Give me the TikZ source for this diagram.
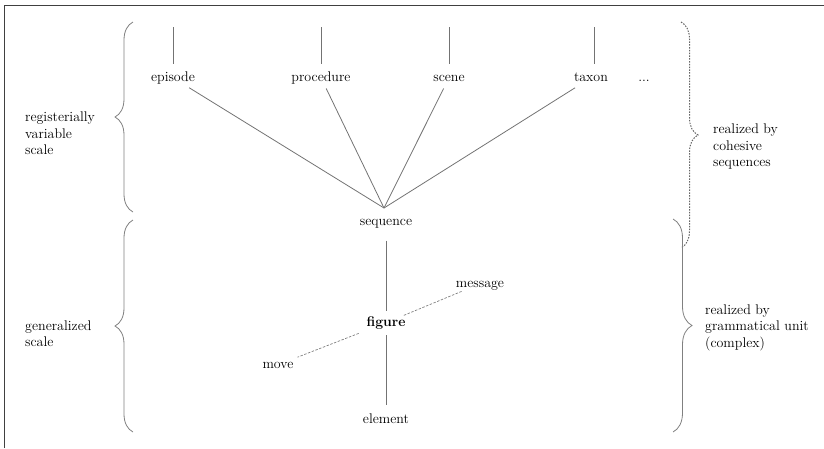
\documentclass[tikz,border=0pt]{standalone}
\usetikzlibrary{decorations.pathreplacing}
\begin{document}
\begin{tikzpicture}[x=1pt,y=-1pt,
  every node/.style={font=\fontsize{14}{16.5}\selectfont, text=black},
  term/.style={inner sep=2pt, text height=10pt, text depth=3.5pt, anchor=base},
  side/.style={inner sep=0pt, align=left, anchor=west},
  link/.style={draw=black!55, line width=0.8pt},
  dashlink/.style={draw=black!50, line width=0.7pt, dash pattern=on 2.5pt off 1.5pt},
  curly/.style={draw=black!50, line width=0.8pt, decorate,
                decoration={brace, amplitude=#1}},
  dotcurly/.style={draw=black!60, line width=1pt, dash pattern=on 1.5pt off 1.3pt,
                decorate, decoration={brace, amplitude=#1}},
  frame/.style={draw=black!75, line width=1.4pt}]

\useasboundingbox (0,0) rectangle (824,448);

% outer frame (top and left edges)
\draw[frame] (4.5,448) -- (4.5,5.5) -- (824,5.5);

% registerially variable units
\node[term] (episode)   at (173,81) {episode};
\node[term] (procedure) at (321,81) {procedure};
\node[term] (scene)     at (449,81) {scene};
\node[term] (taxon)     at (591,81) {taxon};
\node[term] (more)      at (644,81) {...};

\coordinate (episode-up)   at (173,27);
\coordinate (procedure-up) at (321,27);
\coordinate (scene-up)     at (449,27);
\coordinate (taxon-up)     at (594,27);

\draw[link, shorten >=5pt] (episode-up) -- (episode.north -| episode-up);
\draw[link, shorten >=5pt] (procedure-up) -- (procedure.north -| procedure-up);
\draw[link, shorten >=5pt] (scene-up) -- (scene.north -| scene-up);
\draw[link, shorten >=5pt] (taxon-up) -- (taxon.north -| taxon-up);

% generalized units
\node[term] (sequence) at (386,225) {sequence};
\node[term] (figure)   at (386,326) {\bfseries figure};
\node[term] (element)  at (386,423) {element};
\node[term] (message)  at (480,287) {message};
\node[term] (move)     at (278,368) {move};

\coordinate (apex) at (384,208);

\draw[link, shorten <=2pt] (episode) -- (apex);
\draw[link, shorten <=2pt] (procedure) -- (apex);
\draw[link, shorten <=2pt] (scene) -- (apex);
\draw[link, shorten <=2pt] (taxon) -- (apex);

\draw[link, shorten <=10pt, shorten >=3pt] (sequence) -- (figure);
\draw[link, shorten <=3.5pt, shorten >=6pt] (figure) -- (element);

\draw[dashlink, shorten <=-4pt, shorten >=-4pt] (figure) -- (message);
\draw[dashlink, shorten <=6pt, shorten >=2pt] (figure) -- (move);

% left-hand braces and their labels
\draw[curly=18pt] (133,212) -- (133,22);
\draw[curly=18pt] (133,432) -- (133,220);
\node[side] (regvar) at (25,133.5) {registerially\\variable\\scale};
\node[side] (general) at (25,333.5) {generalized\\scale};

% right-hand braces and their labels
\draw[dotcurly=17pt] (681,22) -- (681,248);
\draw[curly=19pt] (673,219) -- (673,432);
\node[side] (cohesive) at (713,146.5) {realized by\\cohesive\\sequences};
\node[side] (grammatical) at (705,327.5) {realized by\\grammatical unit\\(complex)};

\end{tikzpicture}
\end{document}
